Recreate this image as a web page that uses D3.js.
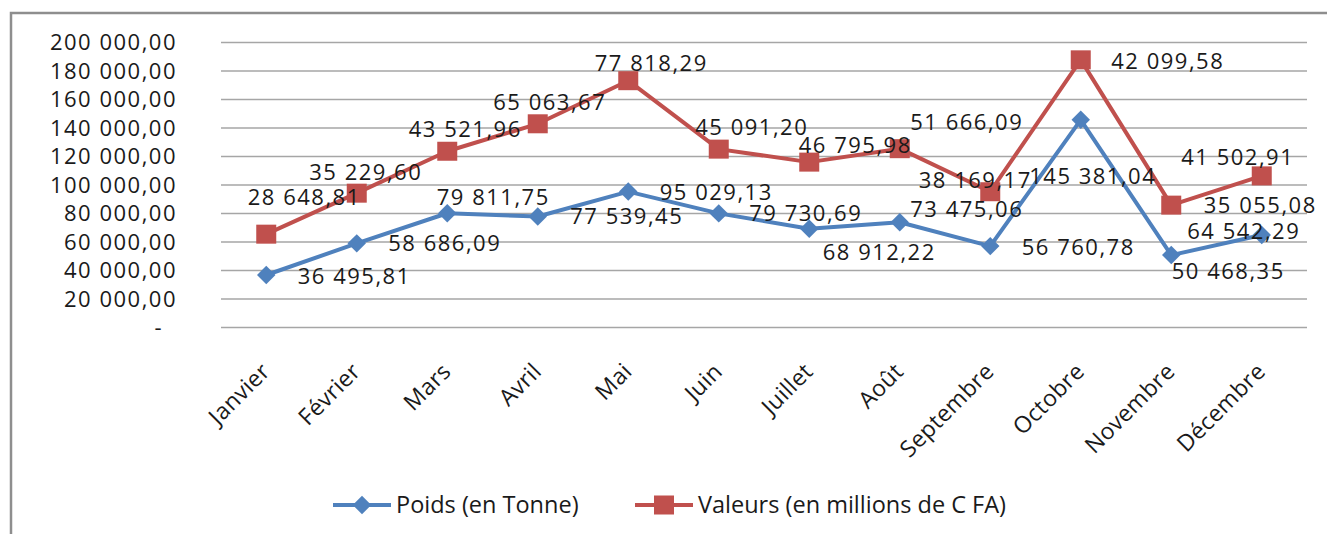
<!DOCTYPE html>
<html>
<head>
<meta charset="utf-8">
<script src="https://cdn.jsdelivr.net/npm/d3@7"></script>
<style>
	body { margin: 0; background: #fff; }
	text { font-family: "Open Sans", sans-serif; fill: #1a1a1a; }
</style>
</head>
<body>
<div id="chart"></div>
<script>
var months = ["Janvier", "Février", "Mars", "Avril", "Mai", "Juin", "Juillet", "Août", "Septembre", "Octobre", "Novembre", "Décembre"];
var poids = [36495.81, 58686.09, 79811.75, 77539.45, 95029.13, 79730.69, 68912.22, 73475.06, 56760.78, 145381.04, 50468.35, 64542.29];
var valeurs = [28648.81, 35229.60, 43521.96, 65063.67, 77818.29, 45091.20, 46795.98, 51666.09, 38169.17, 42099.58, 35055.08, 41502.91];
var yTicks = [0, 20000, 40000, 60000, 80000, 100000, 120000, 140000, 160000, 180000, 200000];
var seriesNames = ["Poids (en Tonne)", "Valeurs (en millions de C FA)"];

// label nudges (px) as placed in the original chart
var poidsLabelShift = [[88,1],[88,0],[46,-16],[89,0],[88,0],[87,0],[70,23],[67,-13],[88,1],[12,56],[57,16],[-18,-4]];
var valeursLabelShift = [[38,-37],[9,-21],[18,-22],[12,-22],[23,-18],[33,-22],[46,-17],[67,-27],[-15,-12],[87,1],[89,0],[-24,-19]];

var width = 1327, height = 534;
var margin = {left: 221, right: 20, top: 42, bottom: 207};

// the second series is stacked on top of the first
var stacked = valeurs.map(function(v, i) { return v + poids[i]; });

var x = d3.scaleBand()
		.domain(months)
		.range([margin.left, width - margin.right]);

var y = d3.scaleLinear()
		.domain([0, 200000])
		.range([height - margin.bottom, margin.top]);

var svg = d3.select("#chart").append("svg")
		.attr("width", width)
		.attr("height", height);

// chart area frame (only top and left edges visible)
svg.append("path")
		.attr("d", "M11," + height + "V13H" + width)
		.attr("fill", "none")
		.attr("stroke", "#8e8e8e")
		.attr("stroke-width", 2.5);

var fmt = function(v) {
	var s = d3.format(",.2f")(v);
	return s.replace(/,/g, " ").replace(".", ",");
};

var yAxis = d3.axisLeft(y)
		.tickValues(yTicks)
		.tickSize(-(width - margin.right - margin.left))
		.tickPadding(44)
		.tickFormat(function(d) { return d === 0 ? "-" : fmt(d); });

var gy = svg.append("g")
		.attr("transform", "translate(" + margin.left + ",0)")
		.call(yAxis);
gy.select(".domain").remove();
gy.selectAll(".tick line")
		.attr("stroke", "#a6a6a6")
		.attr("stroke-width", 1.5);
gy.selectAll(".tick text")
		.style("font-size", "22px")
		.style("letter-spacing", "1.5px")
		.attr("fill", "#1a1a1a")
		.attr("dy", "0.36em")
		.attr("dx", function(d) { return d === 0 ? -14 : 0; });

// month labels
svg.append("g").selectAll("text")
		.data(months)
	.enter().append("text")
		.attr("text-anchor", "end")
		.attr("transform", function(d) {
			return "translate(" + (x(d) + x.bandwidth() / 2 + 5) + "," + (height - margin.bottom + 46) + ") rotate(-45)";
		})
		.style("font-size", "23px")
		.style("letter-spacing", "0.3px")
		.text(function(d) { return d; });

var line = d3.line()
		.x(function(d, i) { return x(months[i]) + x.bandwidth() / 2; })
		.y(function(d) { return y(d); });

var blue = "#4f81bd", red = "#c0504d";

svg.append("path")
		.datum(poids)
		.attr("d", line)
		.attr("fill", "none")
		.attr("stroke", blue)
		.attr("stroke-width", 4)
		.attr("stroke-linejoin", "round");

svg.append("path")
		.datum(stacked)
		.attr("d", line)
		.attr("fill", "none")
		.attr("stroke", red)
		.attr("stroke-width", 4)
		.attr("stroke-linejoin", "round");

var diamond = d3.symbol().type(d3.symbolSquare).size(170);

svg.append("g").selectAll("path")
		.data(poids)
	.enter().append("path")
		.attr("d", diamond)
		.attr("fill", blue)
		.attr("transform", function(d, i) {
			return "translate(" + (x(months[i]) + x.bandwidth() / 2) + "," + y(d) + ") rotate(45)";
		});

svg.append("g").selectAll("rect")
		.data(stacked)
	.enter().append("rect")
		.attr("x", function(d, i) { return x(months[i]) + x.bandwidth() / 2 - 10; })
		.attr("y", function(d) { return y(d) - 9.5; })
		.attr("width", 20)
		.attr("height", 19)
		.attr("fill", red);

// data labels
svg.append("g").selectAll("text")
		.data(poids)
	.enter().append("text")
		.attr("text-anchor", "middle")
		.attr("x", function(d, i) { return x(months[i]) + x.bandwidth() / 2 + poidsLabelShift[i][0]; })
		.attr("y", function(d, i) { return y(d) + poidsLabelShift[i][1]; })
		.attr("dy", "0.36em")
		.style("font-size", "22px")
		.style("letter-spacing", "1.5px")
		.text(function(d) { return fmt(d); });

svg.append("g").selectAll("text")
		.data(valeurs)
	.enter().append("text")
		.attr("text-anchor", "middle")
		.attr("x", function(d, i) { return x(months[i]) + x.bandwidth() / 2 + valeursLabelShift[i][0]; })
		.attr("y", function(d, i) { return y(stacked[i]) + valeursLabelShift[i][1]; })
		.attr("dy", "0.36em")
		.style("font-size", "22px")
		.style("letter-spacing", "1.5px")
		.text(function(d) { return fmt(d); });

// legend
var legend = svg.append("g").attr("transform", "translate(0,505)");
var legendX = [333, 635];
[blue, red].forEach(function(c, i) {
	var g = legend.append("g").attr("transform", "translate(" + legendX[i] + ",0)");
	g.append("line")
			.attr("x1", 0).attr("x2", 58)
			.attr("stroke", c)
			.attr("stroke-width", 4);
	if (i === 0) {
		g.append("path")
				.attr("d", diamond)
				.attr("fill", c)
				.attr("transform", "translate(29,0) rotate(45)");
	} else {
		g.append("rect")
				.attr("x", 19).attr("y", -9.5)
				.attr("width", 20).attr("height", 19)
				.attr("fill", c);
	}
	g.append("text")
			.attr("x", 63)
			.attr("dy", "0.36em")
			.style("font-size", "23.5px")
			.text(seriesNames[i]);
});
</script>
</body>
</html>
